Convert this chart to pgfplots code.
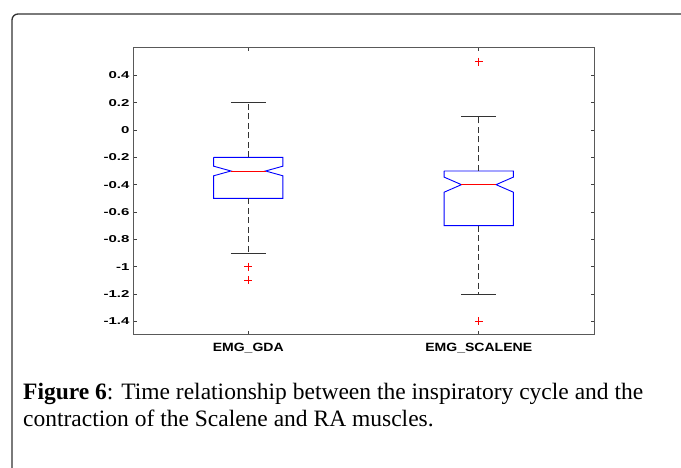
\documentclass[border=0pt]{standalone}
\usepackage{pgfplots}
\pgfplotsset{compat=1.18}
\usepackage{fontspec}
\setmainfont{Liberation Serif}
\newfontfamily\labfont{Liberation Sans}
\newcommand{\xs}[1]{\scalebox{1.17}[1]{#1}}
\newcommand{\ys}[1]{\scalebox{1.5}[1]{#1}}
\begin{document}
\begin{tikzpicture}
\useasboundingbox (0pt,0pt) rectangle (681pt,468pt);
\draw[line width=1.3pt, black!80, rounded corners=6pt] (12pt,0pt) -- (12pt,454pt) -- (681pt,454pt);
\begin{axis}[
  at={(133pt,420pt)}, anchor=north west,
  scale only axis, width=461pt, height=287pt,
  xmin=0.5, xmax=2.5, ymin=-1.5, ymax=0.6,
  xtick={1,2}, xticklabels={\xs{EMG\_GDA}, \xs{EMG\_SCALENE}},
  ytick={-1.4,-1.2,-1,-0.8,-0.6,-0.4,-0.2,0,0.2,0.4},
  yticklabels={\ys{-1.4},\ys{-1.2},\ys{-1},\ys{-0.8},\ys{-0.6},\ys{-0.4},\ys{-0.2},\ys{0},\ys{0.2},\ys{0.4}},
  tick align=inside, major tick length=3.5pt,
  tick style={black!75, line width=0.8pt},
  axis line style={black!65, line width=1pt},
  xticklabel style={font=\labfont\bfseries\fontsize{12}{12}\selectfont, yshift=-5pt},
  yticklabel style={font=\labfont\bfseries\fontsize{10}{10}\selectfont},
]
% box 1
\addplot[blue, line width=0.9pt] coordinates {(0.85,-0.2) (1.15,-0.2) (1.15,-0.265) (1.075,-0.3) (1.15,-0.335) (1.15,-0.5) (0.85,-0.5) (0.85,-0.335) (0.925,-0.3) (0.85,-0.265) (0.85,-0.2)};
\addplot[red, line width=0.9pt] coordinates {(0.925,-0.3) (1.075,-0.3)};
\addplot[black!80, line width=0.8pt, dash pattern=on 6pt off 3.5pt] coordinates {(1,-0.2) (1,0.2)};
\addplot[black!80, line width=0.8pt, dash pattern=on 6pt off 3.5pt] coordinates {(1,-0.5) (1,-0.9)};
\addplot[black!80, line width=0.9pt] coordinates {(0.925,0.2) (1.075,0.2)};
\addplot[black!80, line width=0.9pt] coordinates {(0.925,-0.9) (1.075,-0.9)};
\addplot[only marks, mark=+, red, mark size=4pt, mark options={line width=0.8pt}] coordinates {(1,-1.0) (1,-1.1)};
% box 2
\addplot[blue, line width=0.9pt] coordinates {(1.85,-0.3) (2.15,-0.3) (2.15,-0.345) (2.075,-0.4) (2.15,-0.455) (2.15,-0.7) (1.85,-0.7) (1.85,-0.455) (1.925,-0.4) (1.85,-0.345) (1.85,-0.3)};
\addplot[red, line width=0.9pt] coordinates {(1.925,-0.4) (2.075,-0.4)};
\addplot[black!80, line width=0.8pt, dash pattern=on 6pt off 3.5pt] coordinates {(2,-0.3) (2,0.1)};
\addplot[black!80, line width=0.8pt, dash pattern=on 6pt off 3.5pt] coordinates {(2,-0.7) (2,-1.2)};
\addplot[black!80, line width=0.9pt] coordinates {(1.925,0.1) (2.075,0.1)};
\addplot[black!80, line width=0.9pt] coordinates {(1.925,-1.2) (2.075,-1.2)};
\addplot[only marks, mark=+, red, mark size=4pt, mark options={line width=0.8pt}] coordinates {(2,0.5) (2,-1.4)};
\end{axis}
\node[anchor=base west, inner sep=0pt, font=\fontsize{23.5}{27}\selectfont] at (23pt,68pt) {\textbf{Figure 6}: Time relationship between the inspiratory cycle and the};
\node[anchor=base west, inner sep=0pt, font=\fontsize{23.5}{27}\selectfont] at (23pt,41pt) {contraction of the Scalene and RA muscles.};
\end{tikzpicture}
\end{document}
